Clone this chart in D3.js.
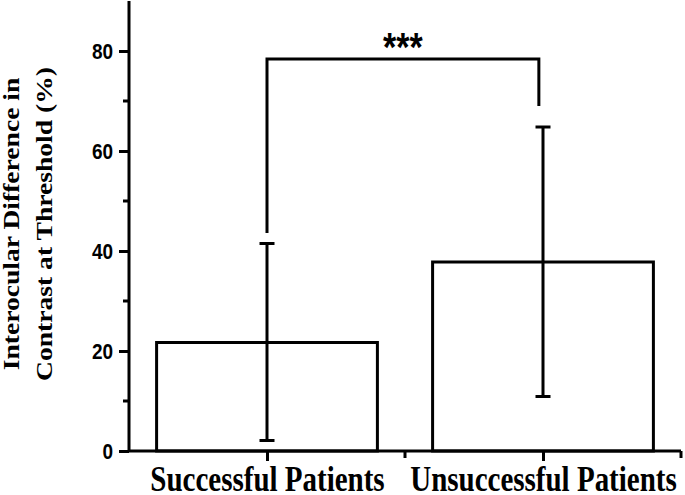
<!DOCTYPE html>
<html>
<head>
<meta charset="utf-8">
<script src="https://cdn.jsdelivr.net/npm/d3@7"></script>
<style>
  body { margin: 0; background: #fff; }
  svg { display: block; }
</style>
</head>
<body>
<svg id="chart"></svg>
<script>
// data
const categories = ["Successful Patients", "Unsuccessful Patients"];
const means = [21.7, 37.8];
const errLow = [2.1, 10.9];
const errHigh = [41.5, 64.8];
const yTicks = [0, 20, 40, 60, 80];
// significance bracket: left leg bottom, top, right leg bottom (data units)
const bracket = [43.6, 78.4, 69.0];
const sigLabel = "***";

const width = 685, height = 495;
const margin = { top: 1, right: 4, bottom: 44, left: 129 };
const stretch = 1.2; // the source figure is stretched vertically

const svg = d3.select("#chart")
    .attr("width", width)
    .attr("height", height);

const g = svg.append("g")
    .attr("transform", "translate(" + margin.left + "," + margin.top + ")");

const w = width - margin.left - margin.right,
    h = height - margin.top - margin.bottom;

const x = d3.scaleLinear().domain([0.5, 2.5]).range([0, w]);
const y = d3.scaleLinear().domain([0, 90]).range([h, 0]);

const bw = x(1.4) - x(0.6);

// bars
g.selectAll(".bar")
    .data(means)
    .enter().append("rect")
    .attr("class", "bar")
    .attr("x", (d, i) => x(i + 1) - bw / 2)
    .attr("y", d => y(d))
    .attr("width", bw)
    .attr("height", d => y(0) - y(d))
    .attr("fill", "#fff")
    .attr("stroke", "#000")
    .attr("stroke-width", 3);

// error bars
const capW = 15;
means.forEach(function (m, i) {
    const cx = x(i + 1);
    g.append("line")
        .attr("x1", cx).attr("x2", cx)
        .attr("y1", y(errLow[i])).attr("y2", y(errHigh[i]))
        .attr("stroke", "#000").attr("stroke-width", 3);
    [errLow[i], errHigh[i]].forEach(function (v) {
        g.append("line")
            .attr("x1", cx - capW / 2).attr("x2", cx + capW / 2)
            .attr("y1", y(v)).attr("y2", y(v))
            .attr("stroke", "#000").attr("stroke-width", 3);
    });
});

// significance bracket
const bx1 = x(1), bx2 = x(1.985);
g.append("path")
    .attr("d", d3.line()([
        [bx1, y(bracket[0])], [bx1, y(bracket[1])],
        [bx2, y(bracket[1])], [bx2, y(bracket[2])]
    ]))
    .attr("fill", "none")
    .attr("stroke", "#000")
    .attr("stroke-width", 3);

g.append("text")
    .attr("transform", "translate(" + ((bx1 + bx2) / 2) + "," + (y(bracket[1]) + 2) + ") scale(1," + stretch + ")")
    .attr("text-anchor", "middle")
    .attr("font-family", "Liberation Sans, Arial, sans-serif")
    .attr("font-weight", "bold")
    .attr("font-size", 34)
    .text(sigLabel);

// y axis
const yAxis = d3.axisLeft(y).tickValues(yTicks).tickSize(10).tickPadding(6);
const yG = g.append("g").call(yAxis);
yG.select(".domain").attr("stroke-width", 3).attr("d", "M0," + y(0) + "V0");
yG.selectAll(".tick line").attr("stroke-width", 3);
yG.selectAll(".tick text")
    .attr("x", 0).attr("dy", "0.35em")
    .attr("transform", "translate(-16,0) scale(1," + stretch + ")")
    .attr("font-family", "Liberation Sans, Arial, sans-serif")
    .attr("font-weight", "bold")
    .attr("font-size", 19)
    .attr("fill", "#000");
// minor ticks
g.selectAll(".yminor")
    .data(d3.range(10, 90, 20))
    .enter().append("line")
    .attr("x1", -6).attr("x2", 0)
    .attr("y1", d => y(d)).attr("y2", d => y(d))
    .attr("stroke", "#000").attr("stroke-width", 3);

// x axis
const xAxis = d3.axisBottom(x).tickValues([1, 2])
    .tickFormat((d, i) => categories[i]).tickSize(10);
const xG = g.append("g").attr("transform", "translate(0," + h + ")").call(xAxis);
xG.select(".domain").attr("stroke-width", 3).attr("d", "M0,0H" + w);
xG.selectAll(".tick line").attr("stroke-width", 3);
xG.selectAll(".tick text")
    .attr("y", 0).attr("dy", 0)
    .attr("transform", "translate(0,40) scale(1," + stretch + ")")
    .attr("font-family", "Liberation Serif, Times New Roman, serif")
    .attr("font-weight", "bold")
    .attr("font-size", 29)
    .attr("fill", "#000");
g.selectAll(".xminor")
    .data([1.5, 2.5])
    .enter().append("line")
    .attr("x1", d => x(d)).attr("x2", d => x(d))
    .attr("y1", h).attr("y2", h + 7)
    .attr("stroke", "#000").attr("stroke-width", 3);

// y label
const yl = svg.append("text")
    .attr("transform", "translate(0,224) rotate(-90) scale(" + stretch + ",1)")
    .attr("text-anchor", "middle")
    .attr("font-family", "Liberation Serif, Times New Roman, serif")
    .attr("font-weight", "bold")
    .attr("font-size", 23);
yl.append("tspan").attr("x", 0).attr("y", 19).text("Interocular Difference in");
yl.append("tspan").attr("x", 0).attr("y", 52).text("Contrast at Threshold (%)");
</script>
</body>
</html>
